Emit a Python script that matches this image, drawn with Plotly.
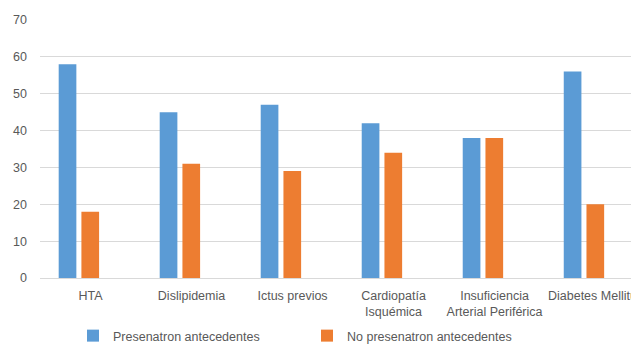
import plotly.graph_objects as go

categories = ["HTA", "Dislipidemia", "Ictus previos", "Cardiopatía<br>Isquémica",
              "Insuficiencia<br>Arterial Periférica", "Diabetes Mellitus"]
presentaron = [58, 45, 47, 42, 38, 56]
no_presentaron = [18, 31, 29, 34, 38, 20]
y_ticks = [0, 10, 20, 30, 40, 50, 60, 70]

FONT = "Liberation Sans"
GRAY = "#595959"
x = list(range(len(categories)))

fig = go.Figure()
fig.add_trace(go.Bar(x=x, y=presentaron, name="Presenatron antecedentes",
                     marker=dict(color="#5B9BD5", line=dict(width=0)),
                     width=0.175, offset=-0.315))
fig.add_trace(go.Bar(x=x, y=no_presentaron, name="No presenatron antecedentes",
                     marker=dict(color="#ED7D31", line=dict(width=0)),
                     width=0.175, offset=-0.09))

fig.update_layout(
    width=631, height=337,
    margin=dict(l=32, r=0, t=12, b=67, autoexpand=False),
    paper_bgcolor="white", plot_bgcolor="white",
    barmode="overlay",
    font=dict(family=FONT, size=12, color=GRAY),
    showlegend=True,
    legend=dict(orientation="h", x=(73 - 40) / 599, xanchor="left",
                y=(278 - 321) / 258, yanchor="top",
                font=dict(family=FONT, size=12.5, color=GRAY),
                entrywidth=189, entrywidthmode="pixels",
                bgcolor="rgba(0,0,0,0)"),
    xaxis=dict(tickmode="array", tickvals=x, ticktext=categories,
               range=[-0.5, 5.43], showgrid=False, zeroline=False,
               showline=True, linecolor="#d9d9d9", linewidth=1,
               ticks="", tickfont=dict(family=FONT, size=12.5, color=GRAY),
               ticklabelstandoff=6, ticklabeloverflow="allow",
               automargin=False),
    yaxis=dict(range=[0, 70], tickvals=y_ticks, showgrid=True,
               gridcolor="#d9d9d9", gridwidth=1, zeroline=False,
               showline=False, ticks="",
               tickfont=dict(family=FONT, size=12.5, color=GRAY),
               ticklabelstandoff=12, automargin=False),
)

fig.write_html("out.html")
